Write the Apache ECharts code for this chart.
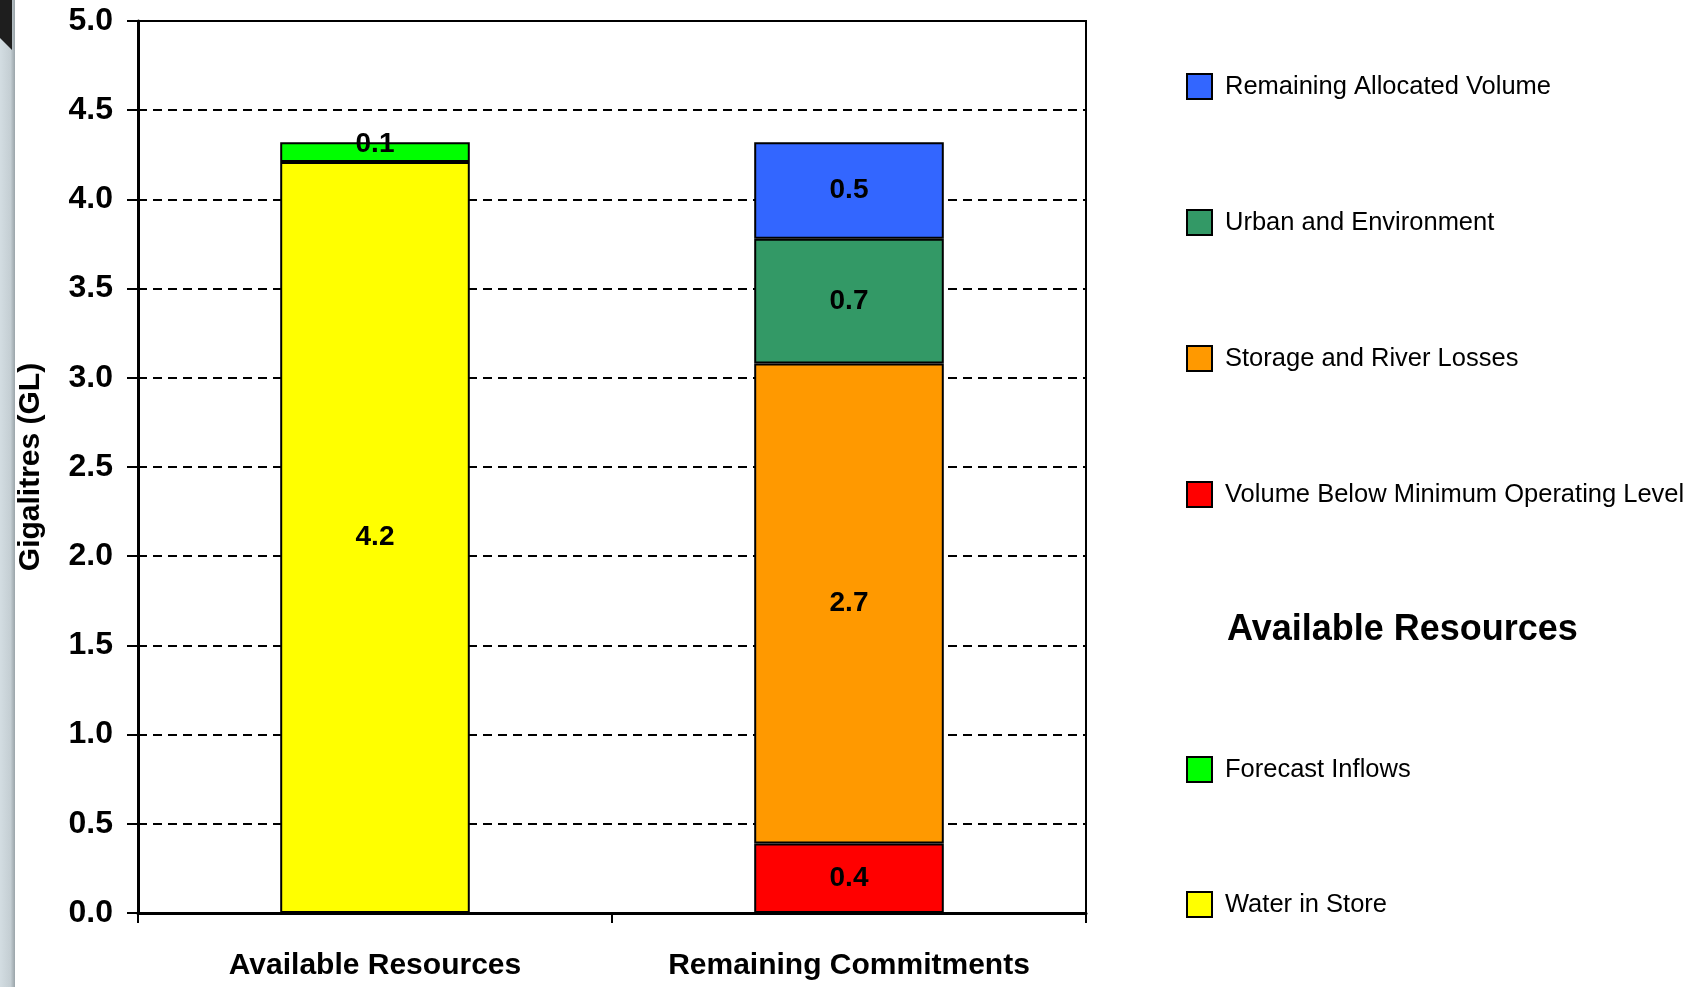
<!DOCTYPE html>
<html>
<head>
<meta charset="utf-8">
<script src="https://cdn.jsdelivr.net/npm/echarts@6/dist/echarts.min.js"></script>
<style>
  html, body { margin: 0; padding: 0; background: #fff; }
  #chart { width: 1708px; height: 987px; }
</style>
</head>
<body>
<div id="chart"></div>
<script>
  var categories = ['Available Resources', 'Remaining Commitments'];
  var yTicks = [0, 0.5, 1, 1.5, 2, 2.5, 3, 3.5, 4, 4.5, 5];

  // Available Resources stack
  var waterInStore = [4.21, '-'];
  var forecastInflows = [0.11, '-'];
  // Remaining Commitments stack
  var belowMinLevel = ['-', 0.39];
  var storageLosses = ['-', 2.69];
  var urbanEnv = ['-', 0.70];
  var remainingAlloc = ['-', 0.54];

  var FONT = "'Liberation Sans', Arial, sans-serif";

  var chartDom = document.getElementById('chart');
  var myChart = echarts.init(chartDom);

  function makeSeries(name, data, color, labelOffset) {
    return {
      name: name,
      type: 'bar',
      stack: 'total',
      barWidth: '40%',
      data: data,
      itemStyle: {
        color: color,
        borderColor: '#000',
        borderWidth: 2
      },
      label: {
        show: true,
        position: 'inside',
        offset: labelOffset || [0, 0],
        color: '#000',
        fontFamily: FONT,
        fontWeight: 'bold',
        fontSize: 28,
        formatter: function (p) {
          return Number(p.value).toFixed(1);
        }
      },
      emphasis: { disabled: true }
    };
  }

  var topNames = ['Remaining Allocated Volume', 'Urban and Environment', 'Storage and River Losses', 'Volume Below Minimum Operating Level'];
  var bottomNames = ['Forecast Inflows', 'Water in Store'];

  // one legend block per row so the rows sit where the reference has them
  var legends = [];
  topNames.forEach(function (n, i) {
    legends.push({ data: [n], top: 73 + i * 136 });
  });
  bottomNames.forEach(function (n, i) {
    legends.push({ data: [n], top: 756 + i * 135 });
  });
  legends = legends.map(function (l) {
    return {
      data: l.data,
      top: l.top,
      left: 1186,
      padding: 0,
      orient: 'vertical',
      icon: 'rect',
      itemWidth: 25,
      itemHeight: 25,
      selectedMode: false,
      itemStyle: { borderColor: '#000', borderWidth: 2 },
      textStyle: {
        fontFamily: FONT,
        fontSize: 25.5,
        color: '#000',
        padding: [0, 0, 0, 8]
      }
    };
  });

  var option = {
    backgroundColor: '#fff',
    animation: false,
    title: {
      text: 'Available Resources',
      left: 1222,
      top: 607,
      textStyle: {
        fontFamily: FONT,
        fontSize: 36,
        fontWeight: 'bold',
        color: '#000'
      }
    },
    legend: legends,
    grid: {
      left: 138,
      right: 622,
      top: 21,
      bottom: 74,
      outerBoundsMode: 'none',
      show: true,
      borderColor: '#000',
      borderWidth: 2,
      backgroundColor: 'transparent'
    },
    xAxis: {
      type: 'category',
      data: categories,
      axisLine: { lineStyle: { color: '#000', width: 3 } },
      axisTick: { show: true, length: 10, lineStyle: { color: '#000', width: 2 } },
      axisLabel: {
        margin: 38,
        color: '#000',
        fontFamily: FONT,
        fontWeight: 'bold',
        fontSize: 30
      }
    },
    yAxis: {
      type: 'value',
      min: yTicks[0],
      max: yTicks[yTicks.length - 1],
      interval: 0.5,
      name: 'Gigalitres (GL)',
      nameLocation: 'middle',
      nameGap: 92,
      nameTextStyle: {
        color: '#000',
        fontFamily: FONT,
        fontWeight: 'bold',
        fontSize: 30
      },
      axisLine: { show: true, lineStyle: { color: '#000', width: 3 } },
      axisTick: { show: true, length: 11, lineStyle: { color: '#000', width: 2 } },
      axisLabel: {
        margin: 25,
        color: '#000',
        fontFamily: FONT,
        fontWeight: 'bold',
        fontSize: 32,
        formatter: function (v) { return v.toFixed(1); }
      },
      splitLine: {
        show: true,
        lineStyle: { color: '#000', width: 2.2, type: [9, 6] }
      }
    },
    graphic: [
      {
        type: 'rect',
        shape: { x: 0, y: 0, width: 15, height: 987 },
        style: {
          fill: new echarts.graphic.LinearGradient(0, 0, 1, 0, [
            { offset: 0, color: '#d3dde2' },
            { offset: 0.7, color: '#c4ced3' },
            { offset: 1, color: '#9aa4a9' }
          ])
        },
        silent: true
      },
      {
        type: 'polygon',
        shape: { points: [[0, 0], [12, 0], [12, 50], [0, 38]] },
        style: { fill: '#1e1e1e' },
        silent: true
      }
    ],
    series: [
      makeSeries('Water in Store', waterInStore, '#ffff00'),
      makeSeries('Forecast Inflows', forecastInflows, '#00ff00', [0, -8]),
      makeSeries('Volume Below Minimum Operating Level', belowMinLevel, '#ff0000'),
      makeSeries('Storage and River Losses', storageLosses, '#ff9900'),
      makeSeries('Urban and Environment', urbanEnv, '#339966'),
      makeSeries('Remaining Allocated Volume', remainingAlloc, '#3366ff')
    ]
  };

  option && myChart.setOption(option);
</script>
</body>
</html>
